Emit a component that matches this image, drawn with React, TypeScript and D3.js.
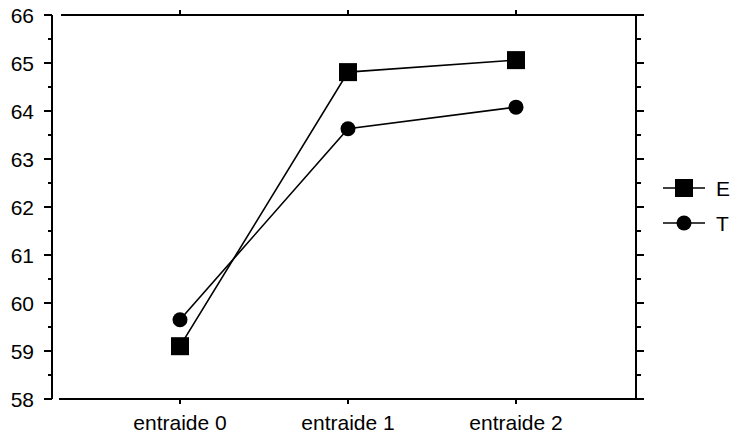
import React from "react";
import * as d3 from "d3";

const categories = ["entraide 0", "entraide 1", "entraide 2"];
const seriesE = [59.1, 64.81, 65.06];
const seriesT = [59.65, 63.63, 64.08];
const yTicks = [58, 59, 60, 61, 62, 63, 64, 65, 66];
const seriesNames = ["E", "T"];

const W = 735;
const H = 435;
const FONT = "'Liberation Sans', Arial, sans-serif";
const FS = 21;

export default function App() {
  const x = d3.scalePoint<string>().domain(categories).range([180, 516]);
  const y = d3.scaleLinear().domain([58, 66]).range([399, 15]);
  const minor = d3.range(58.5, 66, 1);
  const line = d3
    .line<number>()
    .x((_, i) => x(categories[i]) as number)
    .y((d) => y(d));

  const axL = 52;
  const axR = 636;
  const sq = 18;
  const r = 7.5;

  return (
    <svg width={W} height={H} style={{ position: "absolute", left: 0, top: 0, background: "#fff" }}>
      <g stroke="#000" strokeWidth={2} fill="none">
        <line x1={axL} y1={y(58)} x2={axL} y2={y(66)} />
        {yTicks.map((t) => (
          <line key={"l" + t} x1={axL - 8} x2={axL} y1={y(t)} y2={y(t)} />
        ))}
        {minor.map((t) => (
          <line key={"lm" + t} x1={axL - 4} x2={axL} y1={y(t)} y2={y(t)} />
        ))}
        <line x1={axR} y1={y(58)} x2={axR} y2={y(66)} />
        {yTicks.map((t) => (
          <line key={"r" + t} x1={axR} x2={axR + 8} y1={y(t)} y2={y(t)} />
        ))}
        {minor.map((t) => (
          <line key={"rm" + t} x1={axR} x2={axR + 5} y1={y(t)} y2={y(t)} />
        ))}
        <line x1={59} x2={axR} y1={y(58)} y2={y(58)} />
        {categories.map((c) => (
          <line key={"b" + c} x1={x(c)} x2={x(c)} y1={y(58)} y2={y(58) + 5} />
        ))}
        <line x1={61} x2={axR} y1={y(66)} y2={y(66)} />
        {categories.map((c) => (
          <line key={"t" + c} x1={x(c)} x2={x(c)} y1={y(66)} y2={y(66) - 5} />
        ))}
      </g>
      <g fontFamily={FONT} fontSize={FS} fill="#000">
        {yTicks.map((t) => (
          <text key={"yl" + t} x={34} y={y(t)} dy="0.36em" textAnchor="end">
            {t}
          </text>
        ))}
        {categories.map((c) => (
          <text key={"xl" + c} x={x(c)} y={430} textAnchor="middle">
            {c}
          </text>
        ))}
      </g>
      <path d={line(seriesE) || ""} stroke="#000" strokeWidth={1.6} fill="none" />
      <path d={line(seriesT) || ""} stroke="#000" strokeWidth={1.6} fill="none" />
      {seriesE.map((v, i) => (
        <rect
          key={"e" + i}
          x={(x(categories[i]) as number) - sq / 2}
          y={y(v) - sq / 2}
          width={sq}
          height={sq}
          fill="#000"
        />
      ))}
      {seriesT.map((v, i) => (
        <circle key={"t" + i} cx={x(categories[i]) as number} cy={y(v)} r={r} fill="#000" />
      ))}
      <g>
        <line x1={663} x2={705} y1={188} y2={188} stroke="#000" strokeWidth={1.6} />
        <rect x={684 - sq / 2} y={188 - sq / 2} width={sq} height={sq} fill="#000" />
        <text x={716} y={188} dy="0.36em" fontFamily={FONT} fontSize={FS}>
          {seriesNames[0]}
        </text>
        <line x1={663} x2={705} y1={223} y2={223} stroke="#000" strokeWidth={1.6} />
        <circle cx={684} cy={223} r={r} fill="#000" />
        <text x={716} y={223} dy="0.36em" fontFamily={FONT} fontSize={FS}>
          {seriesNames[1]}
        </text>
      </g>
    </svg>
  );
}
